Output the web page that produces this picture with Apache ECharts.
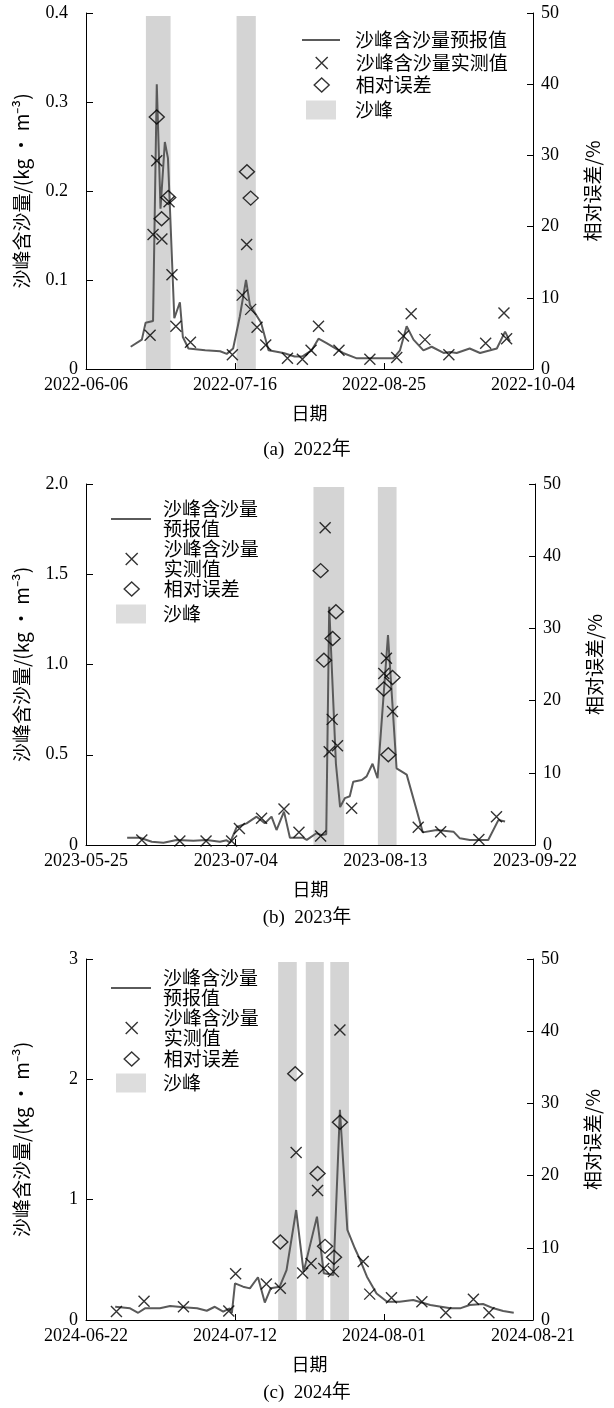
<!DOCTYPE html>
<html>
<head>
<meta charset="utf-8">
<script src="https://cdn.jsdelivr.net/npm/echarts@6.0.0/dist/echarts.min.js"></script>
<style>
  html, body { margin: 0; padding: 0; background: #ffffff; }
  #chart { width: 614px; height: 1408px; }
</style>
</head>
<body>
<div id="chart"></div>
<script>
// ---------- 2022 ----------
const xTicks2022 = ['2022-06-06', '2022-07-16', '2022-08-25', '2022-10-04'];
const yTicks2022 = ['0', '0.1', '0.2', '0.3', '0.4'];
const forecast2022 = [
  ['2022-06-18', 0.025], ['2022-06-21', 0.033], ['2022-06-22', 0.052], ['2022-06-24', 0.054],
  ['2022-06-25', 0.320], ['2022-06-26', 0.180], ['2022-06-27 04:00', 0.255], ['2022-06-28', 0.237],
  ['2022-06-29 17:00', 0.057], ['2022-07-01 05:00', 0.075], ['2022-07-02', 0.036], ['2022-07-03 12:00', 0.023],
  ['2022-07-08', 0.021], ['2022-07-12', 0.020], ['2022-07-13 19:00', 0.017], ['2022-07-15 12:00', 0.023],
  ['2022-07-17 07:00', 0.059], ['2022-07-18 23:00', 0.100], ['2022-07-20', 0.072], ['2022-07-23', 0.052],
  ['2022-07-25', 0.021], ['2022-07-29', 0.018], ['2022-08-01', 0.014], ['2022-08-03', 0.014],
  ['2022-08-05 14:00', 0.021], ['2022-08-07 10:00', 0.034], ['2022-08-09 14:00', 0.029], ['2022-08-14', 0.018],
  ['2022-08-17 17:00', 0.012], ['2022-08-24', 0.012], ['2022-08-27 12:00', 0.012], ['2022-08-29 07:00', 0.021],
  ['2022-08-31 02:00', 0.048], ['2022-09-01 22:00', 0.033], ['2022-09-04 14:00', 0.021], ['2022-09-06 19:00', 0.025],
  ['2022-09-10', 0.018], ['2022-09-11 17:00', 0.019], ['2022-09-13 12:00', 0.018], ['2022-09-17', 0.023],
  ['2022-09-19 19:00', 0.018], ['2022-09-24 07:00', 0.023], ['2022-09-26 12:00', 0.042], ['2022-09-27 19:00', 0.031]
];
const measured2022 = [
  ['2022-06-23 05:00', 0.038], ['2022-06-24', 0.151], ['2022-06-25', 0.234], ['2022-06-26 09:00', 0.146],
  ['2022-06-28 07:00', 0.188], ['2022-06-29 02:00', 0.106], ['2022-06-30 03:00', 0.048], ['2022-07-04 01:00', 0.030],
  ['2022-07-15 07:00', 0.016], ['2022-07-17 22:00', 0.083], ['2022-07-19 03:00', 0.140], ['2022-07-20 05:00', 0.067],
  ['2022-07-21 22:00', 0.047], ['2022-07-24 06:00', 0.027], ['2022-07-30 02:00', 0.012], ['2022-08-03 02:00', 0.011],
  ['2022-08-05 10:00', 0.021], ['2022-08-07 10:00', 0.048], ['2022-08-12 22:00', 0.021], ['2022-08-21 05:00', 0.011],
  ['2022-08-28 10:00', 0.013], ['2022-08-30 05:00', 0.037], ['2022-09-01 07:00', 0.062], ['2022-09-05', 0.033],
  ['2022-09-11 10:00', 0.016], ['2022-09-21 07:00', 0.029], ['2022-09-26 05:00', 0.063], ['2022-09-26 22:00', 0.034]
];
const error2022 = [
  ['2022-06-25', 35.4], ['2022-06-26 07:00', 21.1], ['2022-06-28 02:00', 24.1],
  ['2022-07-19 05:00', 27.7], ['2022-07-20 05:00', 24.0]
];
const peaks2022 = [['2022-06-22 02:00', '2022-06-28 17:00'], ['2022-07-16 10:00', '2022-07-21 14:00']];

// ---------- 2023 ----------
const xTicks2023 = ['2023-05-25', '2023-07-04', '2023-08-13', '2023-09-22'];
const yTicks2023 = ['0', '0.5', '1.0', '1.5', '2.0'];
const forecast2023 = [
  ['2023-06-05', 0.040], ['2023-06-08 10:00', 0.040], ['2023-06-11 14:00', 0.018], ['2023-06-14 17:00', 0.013],
  ['2023-06-18 05:00', 0.028], ['2023-06-22 17:00', 0.024], ['2023-06-26 05:00', 0.028], ['2023-06-29 19:00', 0.018],
  ['2023-07-01 14:00', 0.026], ['2023-07-02 12:00', 0.013], ['2023-07-04 07:00', 0.100], ['2023-07-06 22:00', 0.120],
  ['2023-07-09 14:00', 0.157], ['2023-07-11 19:00', 0.120], ['2023-07-13 14:00', 0.157], ['2023-07-14 22:00', 0.083],
  ['2023-07-16 22:00', 0.185], ['2023-07-18 12:00', 0.040], ['2023-07-22 02:00', 0.040], ['2023-07-23', 0.028],
  ['2023-07-25 14:00', 0.065], ['2023-07-27', 0.055], ['2023-07-28 05:00', 0.060], ['2023-07-29', 1.320],
  ['2023-07-30 19:00', 0.450], ['2023-07-31 22:00', 0.210], ['2023-08-02 05:00', 0.260], ['2023-08-03 12:00', 0.270],
  ['2023-08-04 10:00', 0.350], ['2023-08-06 17:00', 0.360], ['2023-08-08', 0.380], ['2023-08-09 14:00', 0.450],
  ['2023-08-10 22:00', 0.370], ['2023-08-13 17:00', 1.163], ['2023-08-16', 0.425], ['2023-08-18 17:00', 0.390],
  ['2023-08-21 10:00', 0.190], ['2023-08-23', 0.070], ['2023-08-26 17:00', 0.083], ['2023-08-31 05:00', 0.074],
  ['2023-09-01 22:00', 0.037], ['2023-09-04 14:00', 0.028], ['2023-09-09 12:00', 0.028], ['2023-09-12 05:00', 0.138],
  ['2023-09-14', 0.130]
];
const measured2023 = [
  ['2023-06-08 22:00', 0.028], ['2023-06-19 02:00', 0.022], ['2023-06-26 02:00', 0.022], ['2023-07-02 22:00', 0.022],
  ['2023-07-05', 0.092], ['2023-07-10 22:00', 0.148], ['2023-07-16 22:00', 0.200], ['2023-07-20 22:00', 0.070],
  ['2023-07-26 17:00', 0.050], ['2023-07-27 22:00', 1.758], ['2023-07-29', 0.517], ['2023-07-29 19:00', 0.696],
  ['2023-07-31 05:00', 0.550], ['2023-08-04', 0.203], ['2023-08-12 14:00', 0.950], ['2023-08-13 07:00', 1.034],
  ['2023-08-14 22:00', 0.740], ['2023-08-21 19:00', 0.098], ['2023-08-27 19:00', 0.074], ['2023-09-07', 0.031],
  ['2023-09-11 17:00', 0.157]
];
const error2023 = [
  ['2023-07-26 17:00', 38.0], ['2023-07-27 14:00', 25.6], ['2023-07-29 22:00', 28.6], ['2023-07-30 19:00', 32.3],
  ['2023-08-12 14:00', 21.6], ['2023-08-13 19:00', 12.5], ['2023-08-14 22:00', 23.2]
];
const peaks2023 = [['2023-07-24 19:00', '2023-08-02'], ['2023-08-11', '2023-08-16']];

// ---------- 2024 ----------
const xTicks2024 = ['2024-06-22', '2024-07-12', '2024-08-01', '2024-08-21'];
const yTicks2024 = ['0', '1', '2', '3'];
const forecast2024 = [
  ['2024-06-25 22:00', 0.110], ['2024-06-27 22:00', 0.097], ['2024-06-29', 0.060], ['2024-06-29 22:00', 0.097],
  ['2024-07-01 22:00', 0.097], ['2024-07-03 07:00', 0.116], ['2024-07-05 02:00', 0.105], ['2024-07-06 22:00', 0.097],
  ['2024-07-08 05:00', 0.077], ['2024-07-09 07:00', 0.110], ['2024-07-10 10:00', 0.070], ['2024-07-11 07:00', 0.097],
  ['2024-07-11 14:00', 0.060], ['2024-07-12', 0.305], ['2024-07-13 02:00', 0.277], ['2024-07-14', 0.263],
  ['2024-07-15 02:00', 0.355], ['2024-07-16', 0.145], ['2024-07-16 19:00', 0.263], ['2024-07-18', 0.277],
  ['2024-07-18 22:00', 0.415], ['2024-07-20 05:00', 0.914], ['2024-07-21 05:00', 0.400], ['2024-07-23', 0.859],
  ['2024-07-23 22:00', 0.388], ['2024-07-25 05:00', 0.374], ['2024-07-26 02:00', 1.746], ['2024-07-27 02:00', 0.748],
  ['2024-07-28 02:00', 0.596], ['2024-07-28 19:00', 0.500], ['2024-07-29 17:00', 0.360], ['2024-07-31', 0.220],
  ['2024-08-01 10:00', 0.152], ['2024-08-03 02:00', 0.152], ['2024-08-04 22:00', 0.166], ['2024-08-07 05:00', 0.125],
  ['2024-08-09 22:00', 0.097], ['2024-08-11 05:00', 0.097], ['2024-08-12 12:00', 0.125], ['2024-08-14 07:00', 0.133],
  ['2024-08-15 17:00', 0.097], ['2024-08-17', 0.075], ['2024-08-18 10:00', 0.060]
];
const measured2024 = [
  ['2024-06-26 02:00', 0.070], ['2024-06-29 19:00', 0.155], ['2024-07-05 02:00', 0.110], ['2024-07-11 04:00', 0.075],
  ['2024-07-12 02:00', 0.385], ['2024-07-16 05:00', 0.300], ['2024-07-18 02:00', 0.263], ['2024-07-20 05:00', 1.392],
  ['2024-07-21 02:00', 0.390], ['2024-07-22 05:00', 0.470], ['2024-07-23 02:00', 1.077], ['2024-07-23 22:00', 0.428],
  ['2024-07-25 05:00', 0.402], ['2024-07-26 02:00', 2.410], ['2024-07-29 05:00', 0.487], ['2024-07-30 02:00', 0.215],
  ['2024-08-02', 0.185], ['2024-08-06 02:00', 0.152], ['2024-08-09 07:00', 0.060], ['2024-08-13', 0.172],
  ['2024-08-15 02:00', 0.060]
];
const error2024 = [
  ['2024-07-18 02:00', 10.8], ['2024-07-20 02:00', 34.1], ['2024-07-23 02:00', 20.3],
  ['2024-07-24 02:00', 10.2], ['2024-07-25 07:00', 8.7], ['2024-07-26 02:00', 27.4]
];
const peaks2024 = [
  ['2024-07-17 19:00', '2024-07-20 07:00'],
  ['2024-07-21 12:00', '2024-07-23 22:00'],
  ['2024-07-24 19:00', '2024-07-27 07:00']
];

const errorTicks = ['0', '10', '20', '30', '40', '50'];

// ---------- helpers ----------
const DAY = 86400000;
function toUTC(s) {
  const m = s.match(/(\d+)-(\d+)-(\d+)(?:\s+(\d+):(\d+))?/);
  return Date.UTC(+m[1], +m[2] - 1, +m[3], +(m[4] || 0), +(m[5] || 0));
}
function dayOffset(s, start) { return (toUTC(s) - toUTC(start)) / DAY; }

const FONT = "'Liberation Serif', 'Noto Sans CJK SC', serif";
const CJK = "'Noto Sans CJK SC', 'Liberation Serif', sans-serif";
const LINE_COLOR = '#5a5a5a';
const BAND_COLOR = '#d4d4d4';
const CROSS = 'path://M0,0L10,10M10,0L0,10';

const panels = [
  { xTicks: xTicks2022, yTicks: yTicks2022, forecast: forecast2022, measured: measured2022, error: error2022,
    peaks: peaks2022, caption: '(a)  2022年', top: 13, height: 356, right: 81, captionY: 441,
    legend: { cx: 321, tx: 355, ys: [40, 63, 85, 110], wrap: false, lineW: 38 } },
  { xTicks: xTicks2023, yTicks: yTicks2023, forecast: forecast2023, measured: measured2023, error: error2023,
    peaks: peaks2023, caption: '(b)  2023年', top: 484, height: 361, right: 79, captionY: 909,
    legend: { cx: 131, tx: 163, ys: [519, 559, 589, 614], wrap: true, lineW: 40 } },
  { xTicks: xTicks2024, yTicks: yTicks2024, forecast: forecast2024, measured: measured2024, error: error2024,
    peaks: peaks2024, caption: '(c)  2024年', top: 959, height: 361, right: 81, captionY: 1384,
    legend: { cx: 131, tx: 163, ys: [988, 1028, 1059, 1083], wrap: true, lineW: 40 } }
];

const grid = [], xAxis = [], yAxis = [], series = [], legend = [], title = [];

panels.forEach((p, i) => {
  const start = p.xTicks[0];
  const span = dayOffset(p.xTicks[p.xTicks.length - 1], start);
  const step = span / (p.xTicks.length - 1);
  const yStep = parseFloat(p.yTicks[1]);
  const yMax = parseFloat(p.yTicks[p.yTicks.length - 1]);

  grid.push({ left: 86, right: p.right, top: p.top, height: p.height, containLabel: false });

  xAxis.push({
    type: 'value', gridIndex: i, min: 0, max: span, interval: step,
    axisLine: { show: true, onZero: false, lineStyle: { color: '#000', width: 1 } },
    axisTick: { show: true, inside: true, length: 6, lineStyle: { color: '#000' } },
    axisLabel: {
      color: '#000', fontFamily: FONT, fontSize: 18, margin: 7,
      showMinLabel: true, showMaxLabel: true,
      formatter: v => p.xTicks[Math.round(v / step)]
    },
    splitLine: { show: false },
    name: '日期', nameLocation: 'middle', nameGap: 35,
    nameTextStyle: { color: '#000', fontFamily: CJK, fontSize: 18 }
  });

  yAxis.push({
    type: 'value', gridIndex: i, position: 'left', min: 0, max: yMax, interval: yStep,
    axisLine: { show: true, lineStyle: { color: '#000', width: 1 } },
    axisTick: { show: true, inside: true, length: 7, lineStyle: { color: '#000' } },
    axisLabel: {
      color: '#000', fontFamily: FONT, fontSize: 18, margin: 8,
      // decimal labels sit a little further from the axis than whole numbers
      formatter: v => {
        const s = p.yTicks[Math.round(v / yStep)];
        return s.indexOf('.') >= 0 ? '{d|' + s + '}' : s;
      },
      rich: { d: { padding: [0, 10, 0, 0], fontFamily: FONT, fontSize: 18, color: '#000' } }
    },
    splitLine: { show: false },
    name: '沙峰含沙量/(kg • m⁻³)', nameLocation: 'middle', nameGap: 55,
    nameTextStyle: { color: '#000', fontFamily: CJK, fontSize: 19 }
  });
  yAxis.push({
    type: 'value', gridIndex: i, position: 'right', min: 0, max: 50, interval: 10,
    axisLine: { show: true, lineStyle: { color: '#000', width: 1 } },
    axisTick: { show: true, inside: true, length: 6, lineStyle: { color: '#000' } },
    axisLabel: {
      color: '#000', fontFamily: FONT, fontSize: 18, margin: 8,
      formatter: v => errorTicks[Math.round(v / 10)]
    },
    splitLine: { show: false },
    name: '相对误差/%', nameLocation: 'middle', nameGap: 50,
    nameTextStyle: { color: '#000', fontFamily: CJK, fontSize: 19 }
  });

  const bandTop = yMax * (1 - 3 / p.height);
  series.push({
    type: 'scatter', name: '沙峰', xAxisIndex: i, yAxisIndex: 2 * i, data: [], z: 1,
    symbol: 'rect', itemStyle: { color: BAND_COLOR },
    markArea: {
      silent: true, itemStyle: { color: BAND_COLOR, opacity: 1 },
      data: p.peaks.map(([a, b]) => [
        { coord: [dayOffset(a, start), 0] },
        { coord: [dayOffset(b, start), bandTop] }
      ])
    }
  });
  series.push({
    type: 'line', name: '沙峰含沙量预报值', xAxisIndex: i, yAxisIndex: 2 * i, z: 2,
    data: p.forecast.map(([d, v]) => [dayOffset(d, start), v]),
    symbol: 'none', lineStyle: { color: LINE_COLOR, width: 2 }, itemStyle: { color: LINE_COLOR }
  });
  series.push({
    type: 'scatter', name: '沙峰含沙量实测值', xAxisIndex: i, yAxisIndex: 2 * i, z: 4,
    data: p.measured.map(([d, v]) => [dayOffset(d, start), v]),
    symbol: CROSS, symbolSize: 11,
    itemStyle: { color: 'transparent', borderColor: '#000', borderWidth: 1.4 }
  });
  series.push({
    type: 'scatter', name: '相对误差', xAxisIndex: i, yAxisIndex: 2 * i + 1, z: 3,
    data: p.error.map(([d, v]) => [dayOffset(d, start), v]),
    symbol: 'diamond', symbolSize: [15, 14],
    itemStyle: { color: 'transparent', borderColor: '#000', borderWidth: 1.4 }
  });

  // one legend block per entry so each key keeps its own size
  const L = p.legend;
  const items = [
    { name: '沙峰含沙量预报值', w: L.lineW, h: 2, icon: 'rect', bw: 0,
      text: L.wrap ? '沙峰含沙量\n预报值' : '沙峰含沙量预报值' },
    { name: '沙峰含沙量实测值', w: 12, h: 12, icon: CROSS, bw: 1.4,
      text: L.wrap ? '沙峰含沙量\n实测值' : '沙峰含沙量实测值' },
    { name: '相对误差', w: 15, h: 14, icon: 'diamond', bw: 1.4, text: '相对误差' },
    { name: '沙峰', w: 30, h: 19, icon: 'rect', bw: 0, text: '沙峰' }
  ];
  items.forEach((it, k) => {
    const lines = it.text.split('\n').length;
    const boxH = Math.max(it.h, lines * 20);
    legend.push({
      data: [{ name: it.name, icon: it.icon }], selectedMode: false, orient: 'vertical', padding: 0,
      left: L.cx - it.w / 2, top: L.ys[k] - boxH / 2,
      itemWidth: it.w, itemHeight: it.h,
      itemStyle: { borderWidth: it.bw },
      formatter: () => it.text,
      textStyle: {
        color: '#000', fontFamily: CJK, fontSize: 19, lineHeight: 20,
        padding: [0, 0, 0, L.tx - (L.cx + it.w / 2) - 5]
      }
    });
  });

  title.push({
    text: p.caption, left: 'center', top: p.captionY, padding: 0,
    textStyle: { color: '#000', fontFamily: FONT, fontSize: 19, fontWeight: 'normal' }
  });
});

const chart = echarts.init(document.getElementById('chart'), null, { renderer: 'canvas' });
chart.setOption({
  animation: false,
  backgroundColor: '#ffffff',
  title, grid, xAxis, yAxis, legend, series
});
</script>
</body>
</html>
